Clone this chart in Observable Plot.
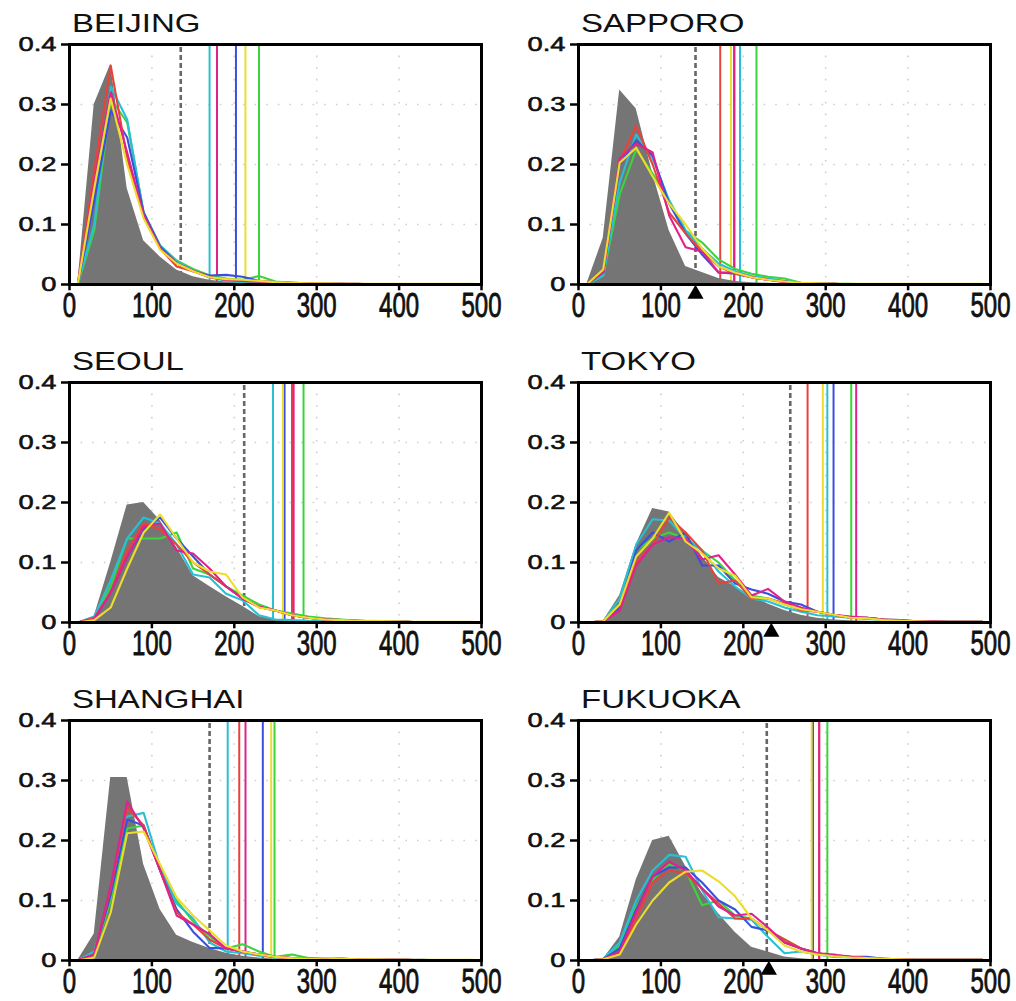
<!DOCTYPE html>
<html>
<head>
<meta charset="utf-8">
<script src="https://cdn.jsdelivr.net/npm/d3@7"></script>
<script src="https://cdn.jsdelivr.net/npm/@observablehq/plot@0.6"></script>
<style>
  body { margin: 0; background: #fff; }
  #fig { position: relative; width: 1016px; height: 1001px; overflow: hidden; background: #fff; }
  .title { position: absolute; font-family: "Liberation Sans", Arial, sans-serif; font-size: 26px; line-height: 26px;
           transform-origin: 0 0; transform: scaleX(1.27); white-space: nowrap; color: #111; }
</style>
</head>
<body>
<div id="fig"></div>
<script>
// ---------------- data ----------------
const cities = ["BEIJING", "SAPPORO", "SEOUL", "TOKYO", "SHANGHAI", "FUKUOKA"];
const bins = [10, 30, 50, 70, 90, 110, 130, 150, 170, 190, 210, 230, 250, 270, 290, 310, 330, 350, 370, 390, 410, 430, 450, 470, 490];
const xTicks = [0, 100, 200, 300, 400, 500];
const yTicks = [0, 0.1, 0.2, 0.3, 0.4];
const modelColors = ["#e8433b", "#3b4fdc", "#28c0d4", "#e0228c", "#ecdc2c", "#3cd43c"]; // red, blue, cyan, magenta, yellow, green

const beijingObs     = [0, .300, .367, .160, .073, .046, .024, .013, .007, .004, .003, .002, .001, .001, .001, 0, 0, 0, 0, 0, 0, 0, 0, 0, 0];
const beijingRed     = [0, .190, .365, .210, .115, .060, .030, .022, .012, .008, .006, .005, .004, .003, .002, .001, .001, .001, 0, 0, 0, 0, 0, 0, 0];
const beijingBlue    = [0, .140, .290, .245, .120, .063, .036, .022, .015, .016, .013, .006, .004, .003, .002, .001, .001, .001, 0, 0, 0, 0, 0, 0, 0];
const beijingCyan    = [0, .100, .330, .275, .118, .065, .038, .024, .012, .006, .004, .004, .003, .002, .001, .001, 0, 0, 0, 0, 0, 0, 0, 0, 0];
const beijingMagenta = [0, .170, .320, .220, .115, .060, .035, .023, .012, .008, .006, .005, .003, .002, .002, .001, .001, 0, 0, 0, 0, 0, 0, 0, 0];
const beijingYellow  = [0, .160, .310, .200, .110, .058, .035, .022, .012, .009, .008, .006, .004, .003, .002, .002, .001, .001, .001, .001, .001, .001, .001, .001, .001];
const beijingGreen   = [0, .090, .310, .270, .120, .065, .040, .026, .015, .010, .008, .014, .005, .003, .002, .001, .001, 0, 0, 0, 0, 0, 0, 0, 0];

const sapporoObs     = [0, .077, .324, .293, .185, .090, .030, .020, .010, .005, .003, .002, .001, .001, 0, 0, 0, 0, 0, 0, 0, 0, 0, 0, 0];
const sapporoRed     = [0, .022, .205, .265, .200, .120, .085, .055, .030, .018, .012, .008, .005, .002, .001, .001, 0, 0, 0, 0, 0, 0, 0, 0, 0];
const sapporoBlue    = [0, .020, .200, .240, .215, .135, .085, .050, .020, .018, .012, .008, .005, .002, .001, .001, 0, 0, 0, 0, 0, 0, 0, 0, 0];
const sapporoCyan    = [0, .015, .170, .250, .210, .140, .090, .060, .035, .022, .014, .010, .006, .003, .001, .001, 0, 0, 0, 0, 0, 0, 0, 0, 0];
const sapporoMagenta = [0, .020, .210, .235, .220, .115, .062, .055, .020, .020, .012, .008, .004, .002, .001, .001, 0, 0, 0, 0, 0, 0, 0, 0, 0];
const sapporoYellow  = [0, .025, .203, .228, .180, .135, .100, .060, .030, .020, .012, .008, .005, .003, .002, .001, .001, .001, .001, .001, .001, .001, .001, .001, .001];
const sapporoGreen   = [0, .015, .150, .225, .185, .140, .090, .070, .042, .026, .018, .013, .010, .003, .002, .001, .001, 0, 0, 0, 0, 0, 0, 0, 0];

const seoulObs     = [0, .010, .100, .196, .200, .170, .125, .078, .060, .043, .027, .010, .004, .002, .001, 0, 0, 0, 0, 0, 0, 0, 0, 0, 0];
const seoulRed     = [0, .008, .050, .120, .165, .155, .130, .100, .080, .060, .040, .026, .020, .012, .008, .005, .004, .003, .002, .001, .001, 0, 0, 0, 0];
const seoulBlue    = [0, .005, .050, .110, .155, .175, .140, .110, .080, .060, .040, .026, .020, .012, .008, .005, .004, .003, .002, .001, .001, 0, 0, 0, 0];
const seoulCyan    = [0, .010, .070, .140, .175, .165, .130, .080, .075, .048, .037, .012, .005, .004, .003, .002, .002, .001, .001, .001, .001, 0, 0, 0, 0];
const seoulMagenta = [0, .006, .050, .110, .160, .165, .120, .115, .090, .060, .040, .026, .020, .012, .008, .005, .004, .003, .002, .001, .001, 0, 0, 0, 0];
const seoulYellow  = [0, .004, .025, .090, .150, .180, .140, .100, .085, .080, .042, .025, .020, .012, .008, .005, .004, .003, .003, .002, .001, .001, .001, .001, .001];
const seoulGreen   = [0, .008, .060, .140, .140, .140, .150, .090, .080, .060, .045, .030, .020, .015, .010, .007, .005, .003, .002, .001, .001, 0, 0, 0, 0];

const tokyoObs     = [0, .002, .045, .130, .190, .184, .148, .110, .075, .060, .043, .031, .020, .012, .007, .004, .003, .002, .001, .001, 0, 0, 0, 0, 0];
const tokyoRed     = [0, .002, .020, .100, .130, .175, .150, .120, .065, .070, .040, .040, .032, .020, .018, .013, .008, .008, .005, .003, .002, .001, .001, .001, .001];
const tokyoBlue    = [0, .002, .025, .120, .150, .135, .150, .095, .095, .065, .055, .048, .035, .030, .018, .013, .008, .008, .005, .004, .002, .002, .001, .001, .001];
const tokyoCyan    = [0, .002, .040, .130, .172, .170, .140, .120, .085, .060, .040, .035, .025, .018, .012, .010, .008, .006, .004, .003, .002, .001, .001, .001, .001];
const tokyoMagenta = [0, .002, .020, .095, .130, .142, .140, .105, .112, .080, .045, .056, .035, .025, .018, .013, .010, .008, .005, .004, .002, .002, .001, .001, .001];
const tokyoYellow  = [0, .002, .030, .110, .140, .183, .135, .115, .090, .078, .042, .040, .030, .022, .018, .013, .008, .007, .004, .003, .002, .001, .001, .001, .001];
const tokyoGreen   = [0, .002, .030, .120, .140, .150, .140, .120, .100, .070, .045, .040, .030, .022, .018, .013, .008, .008, .005, .003, .002, .001, .001, .001, .001];

const shanghaiObs     = [0, .044, .305, .305, .160, .085, .042, .030, .020, .012, .007, .004, .002, .001, 0, 0, 0, 0, 0, 0, 0, 0, 0, 0, 0];
const shanghaiRed     = [0, .010, .120, .255, .225, .150, .080, .060, .035, .020, .015, .010, .006, .004, .003, .002, .003, .002, .001, .001, .001, 0, 0, 0, 0];
const shanghaiBlue    = [0, .010, .110, .235, .225, .150, .085, .048, .021, .020, .015, .010, .006, .004, .003, .003, .003, .002, .001, .001, .001, .001, 0, 0, 0];
const shanghaiCyan    = [0, .015, .110, .240, .246, .155, .095, .070, .030, .015, .012, .008, .005, .004, .003, .002, .002, .001, .001, 0, 0, 0, 0, 0, 0];
const shanghaiMagenta = [0, .010, .125, .265, .220, .150, .075, .060, .044, .020, .015, .010, .006, .004, .003, .002, .003, .002, .001, .001, .001, 0, 0, 0, 0];
const shanghaiYellow  = [0, .005, .080, .212, .215, .160, .105, .075, .050, .025, .015, .010, .006, .004, .003, .002, .003, .002, .002, .001, .001, .001, .001, .001, .001];
const shanghaiGreen   = [0, .010, .100, .220, .225, .150, .100, .065, .040, .020, .027, .015, .006, .010, .004, .003, .003, .002, .001, .001, .001, 0, 0, 0, 0];

const fukuokaObs     = [0, .002, .039, .134, .200, .207, .157, .112, .078, .047, .022, .014, .006, .003, .001, 0, 0, 0, 0, 0, 0, 0, 0, 0, 0];
const fukuokaRed     = [0, .002, .010, .070, .130, .150, .145, .120, .095, .070, .070, .050, .035, .020, .012, .008, .006, .004, .003, .002, .001, .001, .001, .001, .001];
const fukuokaBlue    = [0, .002, .020, .085, .140, .155, .155, .130, .100, .085, .056, .050, .030, .020, .012, .008, .006, .006, .003, .002, .001, .001, .001, .001, .001];
const fukuokaCyan    = [0, .003, .030, .100, .150, .176, .173, .117, .072, .070, .068, .039, .012, .015, .010, .006, .005, .004, .003, .002, .001, .001, .001, .001, .001];
const fukuokaMagenta = [0, .002, .015, .080, .140, .165, .150, .120, .090, .075, .078, .055, .030, .020, .012, .010, .006, .004, .003, .002, .001, .001, .001, .001, .001];
const fukuokaYellow  = [0, .002, .010, .060, .100, .130, .148, .150, .132, .107, .070, .050, .025, .015, .010, .007, .005, .004, .003, .002, .001, .001, .001, .001, .001];
const fukuokaGreen   = [0, .002, .025, .090, .135, .160, .150, .092, .100, .075, .070, .050, .035, .020, .012, .008, .006, .005, .003, .002, .001, .001, .001, .001, .001];

// thresholds (vertical lines): order red, blue, cyan, magenta, yellow, green
const beijingP99  = [179, 202, 170, 179, 213.5, 230];
const sapporoP99  = [172, 189, 196, 189, 185, 216];
const seoulP99    = [270, 261, 247, 272, 259, 284];
const tokyoP99    = [278, 309.5, 302, 337, 296.5, 331];
const shanghaiP99 = [206, 234.6, 192, 213.6, 244.8, 248.8];
const fukuokaP99  = [292, 284.5, 284.5, 292.2, 283, 302];
const obsP99 = [135, 142, 212, 257, 170, 228.5];      // dashed gray, by city
const triangleCities = ["SAPPORO", "TOKYO", "FUKUOKA"];
const triangleX = [142, 234, 231];

// ---------------- drawing ----------------
const FONT = "Liberation Sans, Arial, sans-serif";
const panelData = [
  [beijingObs, [beijingRed, beijingBlue, beijingCyan, beijingMagenta, beijingYellow, beijingGreen], beijingP99],
  [sapporoObs, [sapporoRed, sapporoBlue, sapporoCyan, sapporoMagenta, sapporoYellow, sapporoGreen], sapporoP99],
  [seoulObs, [seoulRed, seoulBlue, seoulCyan, seoulMagenta, seoulYellow, seoulGreen], seoulP99],
  [tokyoObs, [tokyoRed, tokyoBlue, tokyoCyan, tokyoMagenta, tokyoYellow, tokyoGreen], tokyoP99],
  [shanghaiObs, [shanghaiRed, shanghaiBlue, shanghaiCyan, shanghaiMagenta, shanghaiYellow, shanghaiGreen], shanghaiP99],
  [fukuokaObs, [fukuokaRed, fukuokaBlue, fukuokaCyan, fukuokaMagenta, fukuokaYellow, fukuokaGreen], fukuokaP99]
];

const colLayout = [{left: 0, ml: 69, mr: 27}, {left: 508, ml: 70, mr: 26}];
const rowFrameTop = [44, 382, 720];
const MT = 20, FH = 240, MB = 45;

// stretch the glyphs of every label around its own anchor point
function stretchTexts(texts, sx, sy) {
  texts.forEach(t => {
    let tr = t.getAttribute("transform");
    if (!tr) {
      const x = t.getAttribute("x") || 0, y = t.getAttribute("y") || 0;
      t.removeAttribute("x"); t.removeAttribute("y");
      tr = `translate(${x},${y})`;
    }
    t.setAttribute("transform", `${tr} scale(${sx},${sy})`);
  });
}
function labelTexts(svg, wanted) {
  const all = Array.from(svg.querySelectorAll("text"));
  const out = [];
  wanted.forEach(w => {
    const t = all.find(e => e.textContent === w && !e.dataset.used);
    if (t) { t.dataset.used = "1"; out.push(t); }
  });
  return out;
}

const fig = document.getElementById("fig");
const lineOrder = [5, 2, 1, 0, 3, 4];   // green, cyan, blue, red, magenta, yellow
const ruleOrder = [0, 2, 1, 3, 4, 5];   // red, cyan, blue, magenta, yellow, green
const xFmt = d => String(d);
const yFmt = d => d === 0 ? "0" : d.toFixed(1);

cities.forEach((city, k) => {
  const col = colLayout[k % 2];
  const frameTop = rowFrameTop[Math.floor(k / 2)];
  const [obs, models, p99] = panelData[k];
  const obsRows = bins.map((b, i) => ({x: b, y: obs[i]}));
  const tri = triangleX.filter((v, i) => triangleCities[i] === city);

  const marks = [
    Plot.ruleY(yTicks.slice(1, -1), {stroke: "#cfcfcf", strokeWidth: 1.6, strokeDasharray: "1.6,10"}),
    Plot.ruleX(xTicks.slice(1, -1), {stroke: "#cfcfcf", strokeWidth: 1.6, strokeDasharray: "1.6,10"}),
    Plot.ruleX([obsP99[k]], {y1: () => 0, y2: () => 0.4, stroke: "#666", strokeWidth: 2.6, strokeDasharray: "5,3"}),
    ...ruleOrder.map(m => Plot.ruleX([p99[m]], {y1: () => 0, y2: () => 0.4, stroke: modelColors[m], strokeWidth: 2})),
    Plot.areaY(obsRows, {x: "x", y: "y", fill: "#757575"}),
    ...lineOrder.map(m => Plot.line(bins.map((b, i) => ({x: b, y: models[m][i]})),
        {x: "x", y: "y", stroke: modelColors[m], strokeWidth: 2.1, strokeLinejoin: "round"})),
    Plot.ruleX(xTicks, {y1: () => 0, y2: () => -0.0105, stroke: "#000", strokeWidth: 2.5}),
    Plot.ruleY(yTicks, {x1: () => 0, x2: () => -9.7, stroke: "#000", strokeWidth: 2.5}),
    Plot.frame({stroke: "#000", strokeWidth: 3}),
    Plot.dot(tri, {x: d => d, y: () => 0, symbol: "triangle", r: 6, fill: "#000", stroke: "none", dy: 9.5}),
    Plot.text(xTicks, {x: d => d, y: () => 0, text: xFmt, dy: 21.5, fontSize: 24, fontFamily: FONT,
        fill: "#111", stroke: "#111", strokeWidth: 0.6}),
    Plot.text(yTicks, {x: () => 0, y: d => d, text: yFmt, textAnchor: "end", dx: -13,
        fontSize: 21, fontFamily: FONT, fill: "#111", stroke: "#111", strokeWidth: 0.6})
  ];

  const svg = Plot.plot({
    width: 508, height: MT + FH + MB,
    marginLeft: col.ml, marginRight: col.mr, marginTop: MT, marginBottom: MB,
    x: {domain: [0, 500], axis: null},
    y: {domain: [0, 0.4], axis: null},
    style: {background: "transparent", overflow: "visible", fontFamily: FONT},
    marks
  });
  stretchTexts(labelTexts(svg, xTicks.map(xFmt)), 1, 1.45);
  stretchTexts(labelTexts(svg, yTicks.map(yFmt)), 1.3, 1);
  svg.style.position = "absolute";
  svg.style.left = col.left + "px";
  svg.style.top = (frameTop - MT) + "px";
  svg.style.maxWidth = "none";
  fig.appendChild(svg);
});

cities.forEach((city, k) => {
  const col = colLayout[k % 2];
  const frameTop = rowFrameTop[Math.floor(k / 2)];
  const t = document.createElement("div");
  t.className = "title";
  t.textContent = city;
  t.style.left = (col.left + col.ml + 3) + "px";
  t.style.top = (frameTop - 34) + "px";
  fig.appendChild(t);
});
</script>
</body>
</html>
